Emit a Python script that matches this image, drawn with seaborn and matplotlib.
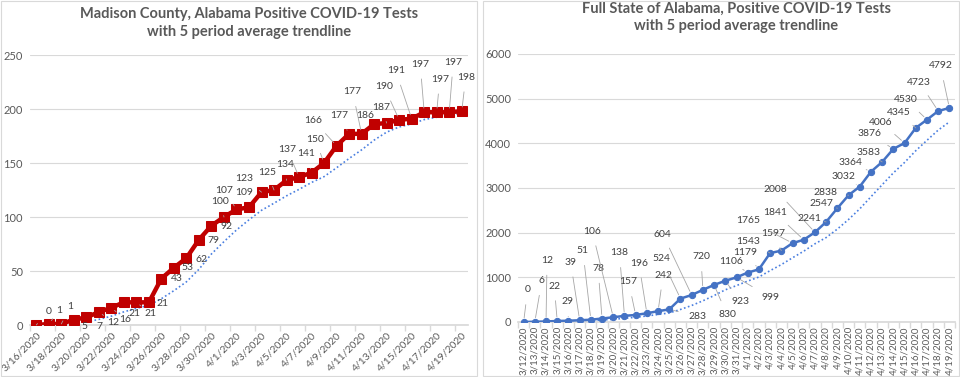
import numpy as np
import pandas as pd
import matplotlib
matplotlib.use('Agg')
import matplotlib.pyplot as plt
import seaborn as sns

sns.set_theme(style="white")
plt.rcParams['font.family'] = ['Lato', 'DejaVu Sans']

# ---- data ----
madison_dates = [d.strftime('%-m/%-d/%Y') for d in pd.date_range('2020-03-16', '2020-04-19')]
madison_cases = [0, 1, 1, 5, 7, 12, 16, 21, 21, 21, 43, 53, 62, 79, 92, 100, 107, 109,
                 123, 125, 134, 137, 141, 150, 166, 177, 177, 186, 187, 190, 191,
                 197, 197, 197, 198]

state_dates = [d.strftime('%-m/%-d/%Y') for d in pd.date_range('2020-03-12', '2020-04-19')]
state_cases = [0, 6, 12, 22, 29, 39, 51, 78, 106, 138, 157, 196, 242, 283, 524, 604,
               720, 830, 923, 999, 1106, 1179, 1543, 1597, 1765, 1841, 2008, 2241,
               2547, 2838, 3032, 3364, 3583, 3876, 4006, 4345, 4530, 4723, 4792]

# label offsets (pixels from the point), mimicking Excel's dragged labels
madison_offsets = [(12, 14), (10, 13), (9, 17), (11, -7), (13, -9), (14, -10), (14, -12),
                   (11, -11), (14, -11), (14, -1), (15, 0), (14, 0), (15, -1), (14, -1),
                   (15, -1), (-4, 16), (-12, 19), (-5, 15), (-17, 14), (-7, 18), (-1, 16),
                   (-12, 28), (-5, 19), (-9, 24), (-23, 25), (-10, 18), (-9, 42), (-9, 9),
                   (-5, 16), (-15, 33), (-16, 48), (-4, 48), (3, 33), (4, 50), (4, 34)]
state_offsets = [(4, 32), (7, 41), (1, 61), (-3, 35), (-1, 19), (-9, 58), (-8, 69), (-4, 50),
                 (-21, 86), (-5, 63), (-7, 33), (-8, 50), (5, 36), (28, -7), (-19, 40),
                 (-29, 61), (-2, 33), (13, -30), (15, -21), (34, -20), (-17, 11), (-14, 17),
                 (-22, 12), (-8, 17), (-44, 23), (-29, 27), (-40, 43), (-17, 3), (-16, 5),
                 (-23, 3), (-16, 10), (-20, 9), (-14, 9), (-24, 15), (-24, 21), (-17, 15),
                 (-21, 20), (-19, 29), (-9, 42)]

GRID = '#d9d9d9'
TXT = '#595959'
LBL = '#404040'
LEADER = '#a6a6a6'
TREND = '#4a7fe0'

fig = plt.figure(figsize=(9.6, 3.77), dpi=100)
fig.patch.set_facecolor('white')

# chart borders like two Excel chart objects
for x0, w in [(0.001, 0.496), (0.503, 0.496)]:
    fig.add_artist(plt.Rectangle((x0, 0.002), w, 0.996, transform=fig.transFigure,
                                 fill=False, edgecolor=GRID, lw=0.8))


def draw_panel(ax, dates, vals, offsets, color, marker, msize, lw, ymax, ystep):
    df = pd.DataFrame({'i': np.arange(len(vals)), 'v': vals})
    df['trend'] = df['v'].rolling(5).mean()
    sns.lineplot(data=df, x='i', y='trend', ax=ax, color=TREND, lw=1.2,
                 linestyle=(0, (1, 1.5)), zorder=2)
    sns.lineplot(data=df, x='i', y='v', ax=ax, color=color, lw=lw, marker=marker,
                 markersize=msize, markeredgecolor=color, zorder=3)
    for i, (v, (dx, dy)) in enumerate(zip(vals, offsets)):
        far = np.hypot(dx, dy) > 16
        ax.annotate(str(v), xy=(i, v), xytext=(dx, dy), textcoords='offset pixels',
                    ha='center', va='center', fontsize=7.5, color=LBL, zorder=4,
                    arrowprops=dict(arrowstyle='-', color=LEADER, lw=0.6,
                                    shrinkA=5, shrinkB=3) if far else None)
    ax.set_xlim(-0.5, len(vals) - 0.5)
    ax.set_ylim(0, ymax)
    ax.set_yticks(np.arange(0, ymax + 1, ystep))
    ax.yaxis.grid(True, color=GRID, lw=0.8)
    ax.set_axisbelow(True)
    for s in ['left', 'right', 'top']:
        ax.spines[s].set_visible(False)
    ax.spines['bottom'].set_color(GRID)
    ax.set_xlabel('')
    ax.set_ylabel('')
    ax.tick_params(axis='y', length=0, labelsize=8, labelcolor=TXT, pad=5)
    return df


# ---- left: Madison County ----
ax1 = fig.add_axes([0.03125, 0.1379, 0.45625, 0.7162])
draw_panel(ax1, madison_dates, madison_cases, madison_offsets, '#c00000', 's', 7, 3.2,
           250, 50)
ax1.set_xticks(np.arange(0, len(madison_dates), 2))
ax1.set_xticklabels(madison_dates[::2], rotation=45, ha='right', rotation_mode='anchor',
                    fontsize=7.5, color=TXT)
ax1.set_xticks(np.arange(-0.5, len(madison_dates), 2), minor=True)
ax1.tick_params(axis='x', which='major', length=0, pad=4)
ax1.tick_params(axis='x', which='minor', length=4, color=GRID, bottom=True)
ax1.set_title('Madison County, Alabama Positive COVID-19 Tests\nwith 5 period average trendline',
              fontsize=10.5, fontweight='bold', color=TXT, pad=14, linespacing=1.3)

# ---- right: full state ----
ax2 = fig.add_axes([0.5396, 0.1459, 0.4552, 0.7109])
draw_panel(ax2, state_dates, state_cases, state_offsets, '#4472c4', 'o', 4.5, 1.8,
           6000, 1000)
ax2.set_xticks(np.arange(len(state_dates)))
ax2.set_xticklabels(state_dates, rotation=90, fontsize=7, color=TXT)
ax2.set_xticks(np.arange(-0.5, len(state_dates), 1), minor=True)
ax2.tick_params(axis='x', which='major', length=0, pad=3)
ax2.tick_params(axis='x', which='minor', length=4, color=GRID, bottom=True)
ax2.set_title('Full State of Alabama, Positive COVID-19 Tests\nwith 5 period average trendline',
              fontsize=10.5, fontweight='bold', color=TXT, pad=17, linespacing=1.3)

fig.savefig('out.png', dpi=100, facecolor='white')
